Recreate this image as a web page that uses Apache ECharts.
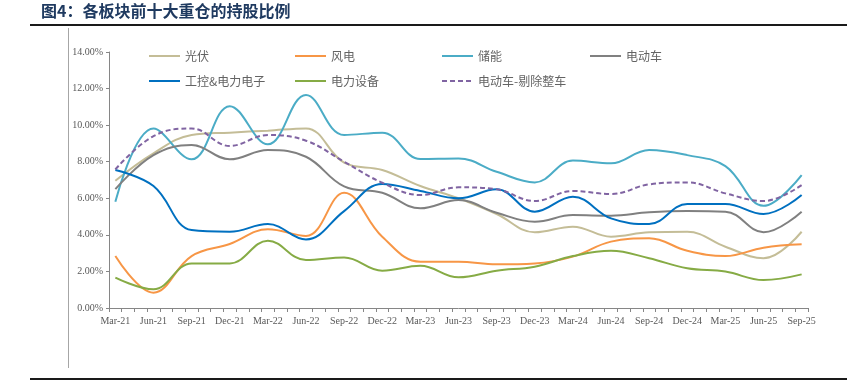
<!DOCTYPE html>
<html>
<head>
<meta charset="utf-8">
<script src="https://cdn.jsdelivr.net/npm/echarts@6/dist/echarts.min.js"></script>
<style>
html,body{margin:0;padding:0;background:#fff;}
#chart{width:847px;height:384px;}
</style>
</head>
<body>
<div id="chart"></div>
<script>
// Quarter-end labels (x axis is monthly, labelled every quarter)
var quarters = ['Mar-21','Jun-21','Sep-21','Dec-21','Mar-22','Jun-22','Sep-22','Dec-22','Mar-23','Jun-23','Sep-23','Dec-23','Mar-24','Jun-24','Sep-24','Dec-24','Mar-25','Jun-25','Sep-25'];
var yTicks = [0, 2, 4, 6, 8, 10, 12, 14];

var pv        = [6.96, 8.46, 9.46, 9.59, 9.70, 9.82, 7.95, 7.55, 6.67, 6.00, 5.14, 4.14, 4.45, 3.90, 4.14, 4.17, 3.35, 2.72, 4.17];
var wind      = [2.84, 0.84, 2.84, 3.50, 4.30, 3.94, 6.30, 3.90, 2.53, 2.53, 2.39, 2.44, 2.81, 3.63, 3.81, 3.13, 2.84, 3.30, 3.48];
var storage   = [5.81, 9.82, 8.13, 11.04, 8.95, 11.65, 9.46, 9.59, 8.15, 8.18, 7.45, 6.87, 8.06, 7.91, 8.64, 8.36, 7.76, 5.59, 7.27];
var ev        = [6.50, 8.36, 8.91, 8.13, 8.64, 8.27, 6.65, 6.30, 5.45, 5.90, 5.21, 4.72, 5.08, 5.05, 5.23, 5.30, 5.27, 4.14, 5.27];
var industrial= [7.55, 6.67, 4.26, 4.17, 4.59, 3.75, 5.30, 6.78, 6.40, 6.00, 6.49, 5.27, 6.09, 4.90, 4.59, 5.69, 5.69, 5.14, 6.18];
var powerEq   = [1.66, 1.02, 2.44, 2.44, 3.68, 2.62, 2.76, 2.04, 2.31, 1.68, 2.04, 2.26, 2.84, 3.13, 2.72, 2.17, 1.99, 1.53, 1.84];
var evExVeh   = [7.58, 9.40, 9.82, 8.86, 9.46, 9.15, 8.00, 6.85, 6.18, 6.60, 6.49, 5.85, 6.40, 6.23, 6.76, 6.87, 6.27, 5.85, 6.72];

var monthNames = ['Jan','Feb','Mar','Apr','May','Jun','Jul','Aug','Sep','Oct','Nov','Dec'];
// monthly categories from Mar-21 to Sep-25
var months = [];
(function(){
  var m = 2, y = 21;
  while (!(y === 25 && m === 9)) {
    months.push(monthNames[m] + '-' + y);
    m++; if (m === 12) { m = 0; y++; }
  }
})();

function toPts(arr){ return arr.map(function(v,i){ return [i*3, v]; }); }

var seriesDefs = [
  {name:'光伏', data:pv, color:'#C4BD97', type:'solid'},
  {name:'风电', data:wind, color:'#F79646', type:'solid'},
  {name:'储能', data:storage, color:'#4BACC6', type:'solid'},
  {name:'电动车', data:ev, color:'#808080', type:'solid'},
  {name:'工控&电力电子', data:industrial, color:'#0070C0', type:'solid'},
  {name:'电力设备', data:powerEq, color:'#86AB45', type:'solid'},
  {name:'电动车-剔除整车', data:evExVeh, color:'#8064A2', type:[5, 3]}
];

var legendPos = [
  {left:148, top:50},{left:294, top:50},{left:441, top:50},{left:589, top:50},
  {left:148, top:75},{left:294, top:75},{left:441, top:75}
];

var legends = seriesDefs.map(function(s, i){
  return {
    data:[s.name], left:legendPos[i].left, top:legendPos[i].top,
    padding:0, itemWidth:31, itemHeight:14, itemGap:0,
    itemStyle:{opacity:0},
    textStyle:{fontSize:12, color:'#636363', fontFamily:'Noto Sans CJK SC'},
    selectedMode:false
  };
});

var chart = echarts.init(document.getElementById('chart'), null, {renderer:'canvas'});
chart.setOption({
  animation:false,
  backgroundColor:'#fff',
  title:{
    text:'图4：各板块前十大重仓的持股比例',
    left:41, top:3, padding:0,
    textStyle:{fontSize:16, fontWeight:'bold', color:'#1F3A60', fontFamily:'Noto Sans CJK SC'}
  },
  graphic:[
    {type:'line', shape:{x1:30,y1:25,x2:847,y2:25}, style:{stroke:'#1a1a1a', lineWidth:2}},
    {type:'line', shape:{x1:68.5,y1:28,x2:68.5,y2:368}, style:{stroke:'#A6A6A6', lineWidth:1}},
    {type:'line', shape:{x1:30,y1:379,x2:847,y2:379}, style:{stroke:'#1a1a1a', lineWidth:2}}
  ],
  legend:legends,
  grid:{left:109, right:39, top:52, bottom:76},
  xAxis:{
    type:'category', data:months, boundaryGap:true,
    axisLine:{lineStyle:{color:'#868686', width:1}},
    axisTick:{show:true, interval:0, length:4, lineStyle:{color:'#868686'}},
    axisLabel:{interval:2, color:'#595959', fontSize:10, fontFamily:'Liberation Serif', margin:8,
      formatter:function(v){ return quarters.indexOf(v) >= 0 ? v : ''; }},
    splitLine:{show:false}
  },
  yAxis:{
    type:'value', min:yTicks[0], max:yTicks[yTicks.length-1], interval:2,
    axisLine:{show:true, lineStyle:{color:'#868686', width:1}},
    axisTick:{show:true, length:3, lineStyle:{color:'#868686'}},
    axisLabel:{color:'#595959', fontSize:10, fontFamily:'Liberation Serif', margin:6,
      formatter:function(v){ return v.toFixed(2) + '%'; }},
    splitLine:{show:false}
  },
  series:seriesDefs.map(function(s){
    return {
      name:s.name, type:'line', data:toPts(s.data), smooth:0.4,
      symbol:'none', showSymbol:false,
      lineStyle:{color:s.color, width:2, type:s.type},
      itemStyle:{color:s.color}
    };
  })
});
</script>
</body>
</html>
